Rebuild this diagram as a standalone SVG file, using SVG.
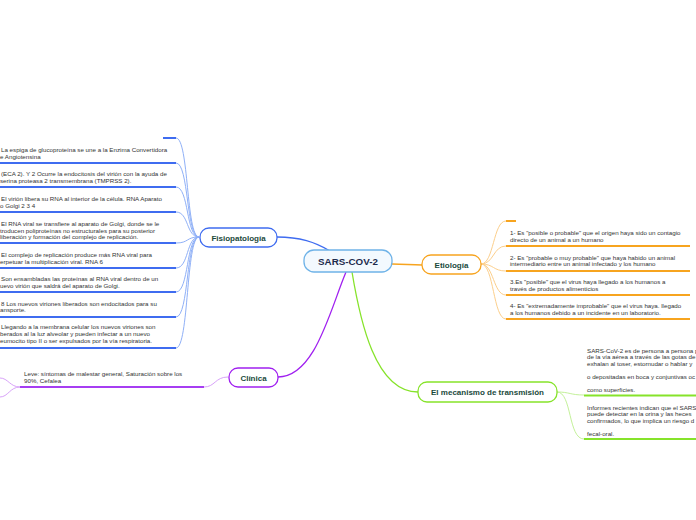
<svg xmlns="http://www.w3.org/2000/svg" width="696" height="520" viewBox="0 0 696 520">
<style>
text{font-family:"Liberation Sans",Arial,sans-serif}
.t{font-size:6.2px;fill:#333333}
.n{font-size:8px;font-weight:bold;fill:#1b4a3c;text-anchor:middle}
.c{fill:none}
.fb{stroke:#8fb0f7;stroke-width:1}
.fl{stroke:#3f6cf0;stroke-width:2}
.eb{stroke:#fccf8c;stroke-width:1}
.el{stroke:#f7a41f;stroke-width:2}
.cb{stroke:#d8a2f9;stroke-width:1}
.cl{stroke:#a63ef2;stroke-width:2.2}
.mb{stroke:#c4f19a;stroke-width:1}
.ml{stroke:#86e32a;stroke-width:2}
</style>
<rect width="696" height="520" fill="#ffffff"/>
<g id="connectors" class="c">
<path class="c" d="M277,237 C300,237 315,242 330,251" stroke="#3f6cf0" stroke-width="1.3"/>
<path class="c" d="M392,264 C405,264 410,265 422,265" stroke="#f7a41f" stroke-width="1.3"/>
<path class="c" d="M346,272 C330,310 315,377 278,377" stroke="#a020f0" stroke-width="1.3"/>
<path class="c" d="M352,272 C360,320 375,392 418,392" stroke="#86e32a" stroke-width="1.3"/>
<path class="c fb" d="M199,237 C186,237 189,138 176,138"/>
<path class="c fb" d="M199,237 C186,237 189,163 176,163"/>
<path class="c fb" d="M199,237 C186,237 189,187 176,187"/>
<path class="c fb" d="M199,237 C186,237 189,212 176,212"/>
<path class="c fb" d="M199,237 C186,237 189,243 176,243"/>
<path class="c fb" d="M199,237 C186,237 189,268 176,268"/>
<path class="c fb" d="M199,237 C186,237 189,292 176,292"/>
<path class="c fb" d="M199,237 C186,237 189,317 176,317"/>
<path class="c fb" d="M199,237 C186,237 189,348 176,348"/>
<path class="c eb" d="M481,264 C494,264 493,221 506,221"/>
<path class="c eb" d="M481,264 C494,264 493,246 506,246"/>
<path class="c eb" d="M481,264 C494,264 493,271 506,271"/>
<path class="c eb" d="M481,264 C494,264 493,295 506,295"/>
<path class="c eb" d="M481,264 C494,264 493,319 506,319"/>
<path class="c cb" d="M228,377 C215,377 215,387 204,387"/>
<path class="c cb" d="M20,387 C10,387 8,378 0,378"/>
<path class="c cb" d="M20,387 C10,387 8,397 0,397"/>
<path class="c mb" d="M557,392 C570,392 570,395 584,395"/>
<path class="c mb" d="M557,392 C572,392 568,439 584,439"/>
</g>
<g id="central">
<rect x="304" y="250" width="88" height="22" rx="10" fill="#f3f9fe" stroke="#6fb3e8" stroke-width="1.3"/>
<text class="n" x="348" y="264.5" style="font-size:9.8px;fill:#1d2b4d">SARS-COV-2</text>
</g>
<g id="fisiopatologia">
<rect x="200" y="228" width="77" height="19" rx="9" fill="#ffffff" stroke="#3f6cf0" stroke-width="1.3"/>
<text class="n" x="238.5" y="240.5">Fisiopatología</text>
</g>
<g id="fisio-items">
<line class="fl" x1="163" y1="138" x2="176" y2="138"/>
<text class="t" x="1" y="152">La espiga de glucoproteína se une a la Enzima Convertidora</text>
<text class="t" x="0" y="158.7">e Angiotensina</text>
<line class="fl" x1="0" y1="163" x2="176" y2="163"/>
<text class="t" x="1" y="176">(ECA 2). Y 2 Ocurre la endocitosis del virión con la ayuda de</text>
<text class="t" x="0" y="183.3"> serina proteasa 2 transmembrana (TMPRSS 2).</text>
<line class="fl" x1="0" y1="187" x2="176" y2="187"/>
<text class="t" x="1" y="201">El virión libera su RNA al interior de la célula. RNA Aparato</text>
<text class="t" x="0" y="208">o Golgi 2 3 4</text>
<line class="fl" x1="0" y1="212" x2="176" y2="212"/>
<text class="t" x="1" y="226">El RNA viral se transfiere al aparato de Golgi, donde se le</text>
<text class="t" x="0" y="232.5">troducen poliproteínas no estructurales para su posterior</text>
<text class="t" x="0" y="239">liberación y formación del complejo de replicación.</text>
<line class="fl" x1="0" y1="243" x2="176" y2="243"/>
<text class="t" x="1" y="257">El complejo de replicación produce más RNA viral para</text>
<text class="t" x="0" y="263.7">erpetuar la multiplicación viral. RNA 6</text>
<line class="fl" x1="0" y1="268" x2="176" y2="268"/>
<text class="t" x="1" y="281">Son ensambladas las proteínas al RNA viral dentro de un</text>
<text class="t" x="0" y="288.3">uevo virión que saldrá del aparato de Golgi.</text>
<line class="fl" x1="0" y1="292" x2="176" y2="292"/>
<text class="t" x="1" y="306.3">8 Los nuevos viriones liberados son endocitados para su</text>
<text class="t" x="0" y="312.3">ansporte.</text>
<line class="fl" x1="0" y1="317" x2="176" y2="317"/>
<text class="t" x="1" y="329">Llegando a la membrana celular los nuevos viriones son</text>
<text class="t" x="0" y="336.3">berados al la luz alveolar y pueden infectar a un nuevo</text>
<text class="t" x="0" y="343">eumocito tipo II o ser expulsados por la vía respiratoria.</text>
<line class="fl" x1="0" y1="348" x2="176" y2="348"/>
</g>
<g id="etiologia">
<rect x="422" y="255" width="59" height="19" rx="9" fill="#ffffff" stroke="#f7a41f" stroke-width="1.3"/>
<text class="n" x="451.5" y="267.5">Etiología</text>
</g>
<g id="etiologia-items">
<line class="el" x1="506" y1="221" x2="516" y2="221"/>
<text class="t" x="510" y="234.5">1- Es "posible o probable" que el origen haya sido un contagio</text>
<text class="t" x="510" y="241.5">directo de un animal a un humano</text>
<line class="el" x1="506" y1="246" x2="690" y2="246"/>
<text class="t" x="510" y="259.7">2- Es "probable o muy probable" que haya habido un animal</text>
<text class="t" x="510" y="266">intermediario entre un animal infectado y los humano</text>
<line class="el" x1="506" y1="271" x2="690" y2="271"/>
<text class="t" x="510" y="283.7">3.Es "posible" que el virus haya llegado a los humanos a</text>
<text class="t" x="510" y="290.7">través de productos alimenticios</text>
<line class="el" x1="506" y1="295" x2="690" y2="295"/>
<text class="t" x="510" y="307.7">4- Es "extremadamente improbable" que el virus haya. llegado</text>
<text class="t" x="510" y="315">a los humanos debido a un incidente en un laboratorio.</text>
<line class="el" x1="506" y1="319" x2="690" y2="319"/>
</g>
<g id="clinica">
<rect x="229" y="368" width="49" height="19" rx="9" fill="#ffffff" stroke="#a020f0" stroke-width="1.3"/>
<text class="n" x="253.5" y="380.5">Clínica</text>
</g>
<g id="clinica-items">
<text class="t" x="24" y="376">Leve: síntomas de malestar general, Saturación sobre los</text>
<text class="t" x="24" y="382.7">90%, Cefalea</text>
<line class="cl" x1="20" y1="387" x2="204" y2="387"/>
</g>
<g id="mecanismo">
<rect x="418" y="382" width="139" height="20" rx="9" fill="#ffffff" stroke="#86e32a" stroke-width="1.3"/>
<text class="n" x="487.5" y="395">El mecanismo de transmisión</text>
</g>
<g id="mecanismo-items">
<text class="t" x="587" y="352.7">SARS-CoV-2 es de persona a persona p</text>
<text class="t" x="587" y="359">de la vía aérea a través de las gotas de</text>
<text class="t" x="587" y="365.7">exhalan al toser, estornudar o hablar y</text>
<text class="t" x="587" y="379.3">o depositadas en boca y conjuntivas oc</text>
<text class="t" x="587" y="392">como superficies.</text>
<line class="ml" x1="584" y1="395.5" x2="696" y2="395.5"/>
<text class="t" x="587" y="410.3">Informes recientes indican que el SARS</text>
<text class="t" x="587" y="416">puede detectar en la orina y las heces</text>
<text class="t" x="587" y="422.7">confirmados, lo que implica un riesgo d</text>
<text class="t" x="587" y="436.3">fecal-oral.</text>
<line class="ml" x1="584" y1="439" x2="696" y2="439"/>
</g>
</svg>
